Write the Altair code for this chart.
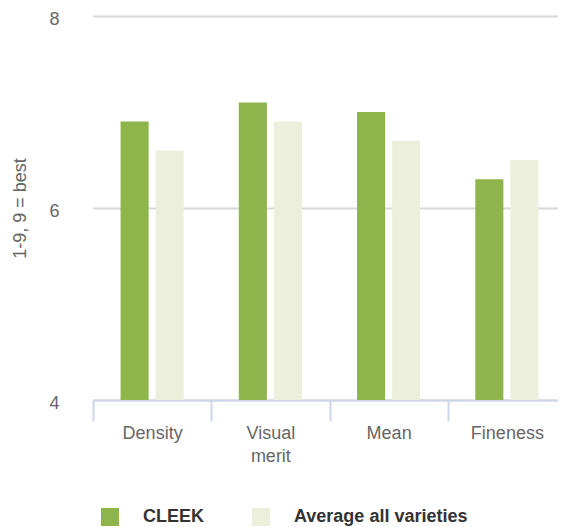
import altair as alt
import pandas as pd

categories = ["Density", "Visual merit", "Mean", "Fineness"]
series_names = ["CLEEK", "Average all varieties"]
cleek = [6.9, 7.1, 7.0, 6.3]
average = [6.6, 6.9, 6.7, 6.5]
y_ticks = [4, 6, 8]
colors = ["#8db54b", "#ebefdb"]

rows = []
for c, a, b in zip(categories, cleek, average):
    rows.append({"category": c, "series": series_names[0], "value": a})
    rows.append({"category": c, "series": series_names[1], "value": b})
df = pd.DataFrame(rows)

FONT = "Liberation Sans"

chart = alt.Chart(df).mark_bar(strokeWidth=0).encode(
    x=alt.X(
        "category:N",
        sort=categories,
        scale=alt.Scale(paddingInner=0, paddingOuter=0),
        axis=alt.Axis(
            title=None,
            labelAngle=0,
            labelExpr="split(datum.label, ' ')",
            labelLineHeight=23,
            labelFont=FONT,
            labelFontSize=18,
            labelColor="#666666",
            labelPadding=3,
            tickBand="extent",
            tickSize=21,
            tickColor="#ccd6eb",
            tickWidth=2,
            domainColor="#ccd6eb",
            domainWidth=2,
            grid=False,
        ),
    ),
    xOffset=alt.XOffset(
        "series:N",
        sort=series_names,
        scale=alt.Scale(paddingInner=0.2, paddingOuter=0.786),
    ),
    y=alt.Y(
        "value:Q",
        scale=alt.Scale(domain=[4, 8], nice=False, zero=False),
        axis=alt.Axis(
            title="1-9, 9 = best",
            values=y_ticks,
            titleFont=FONT,
            titleFontSize=18,
            titleFontWeight="normal",
            titleColor="#666666",
            titlePadding=19,
            labelFont=FONT,
            labelFontSize=18,
            labelColor="#666666",
            labelPadding=34,
            labelOffset=3,
            ticks=False,
            domain=False,
            grid=True,
            gridColor="#d8d8d8",
            gridWidth=2,
        ),
    ),
    y2=alt.datum(4),
    color=alt.Color(
        "series:N",
        sort=series_names,
        scale=alt.Scale(domain=series_names, range=colors),
        legend=alt.Legend(
            title=None,
            orient="none",
            direction="horizontal",
            legendX=8,
            legendY=492,
            symbolType="square",
            symbolSize=324,
            symbolStrokeWidth=0,
            symbolOpacity=1,
            labelFont=FONT,
            labelFontSize=18,
            labelFontWeight="bold",
            labelColor="#333333",
            labelOffset=24,
            labelLimit=400,
            columnPadding=47,
            padding=0,
        ),
    ),
).properties(
    width=473,
    height=384,
    autosize=alt.AutoSizeParams(type="none"),
    padding={"left": 85, "top": 8, "right": -8, "bottom": 127},
).configure_view(stroke=None)

chart.save("out.html", embed_options={"renderer": "svg", "actions": False})
